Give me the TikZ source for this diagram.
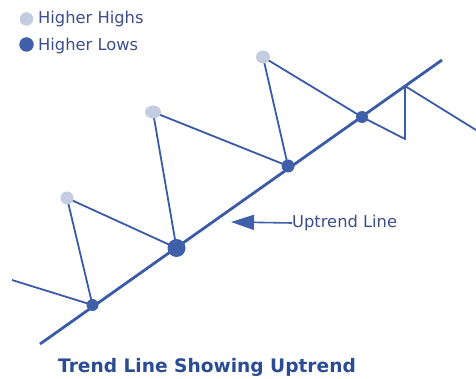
\documentclass[tikz,border=0pt]{standalone}
\usepackage{fontspec}
\setmainfont{DejaVu Sans}
\usepackage{xcolor}
\usetikzlibrary{arrows.meta,shapes.geometric}

\definecolor{lineblue}{HTML}{3A5BA6}
\definecolor{dotdark}{HTML}{3F5FA8}
\definecolor{dotlight}{HTML}{C3CCE0}
\definecolor{textblue}{HTML}{3C4E8C}
\definecolor{titleblue}{HTML}{2B4C93}

\tikzset{
  trend/.style={lineblue, line width=2.8pt},
  zig/.style={lineblue, line width=1.8pt, line join=round},
  lowdot/.style={circle, fill=dotdark, inner sep=0pt, minimum size=12pt},
  highdot/.style={ellipse, fill=dotlight, inner sep=0pt, minimum width=15pt, minimum height=13pt},
  legtext/.style={anchor=west, text=textblue, font=\fontsize{16.3}{19}\selectfont, inner sep=0pt},
}

\begin{document}
\begin{tikzpicture}[x=1pt,y=-1pt]
  \useasboundingbox[fill=white] (0,0) rectangle (476,379);
  % points of the zigzag
  \coordinate (s0) at (12,280);
  \coordinate (l1) at (92.5,305);
  \coordinate (h1) at (67,198);
  \coordinate (l2) at (176.5,248);
  \coordinate (h2) at (153,112);
  \coordinate (l3) at (288,166);
  \coordinate (h3) at (263,57);
  \coordinate (l4) at (362,117);
  \coordinate (e1) at (405,139);
  \coordinate (e2) at (405,86);
  \coordinate (e3) at (476,130);
  \coordinate (t0) at (40,344);
  \coordinate (t1) at (442,60);

  \draw[trend] (t0) -- (t1);
  \draw[zig] (s0) -- (l1) -- (h1) -- (l2) -- (h2) -- (l3) -- (h3) -- (l4) -- (e1) -- (e2) -- (e3);

  \node[lowdot] (d1) at (l1) {};
  \node[lowdot, minimum size=18pt] (d2) at (l2) {};
  \node[lowdot, minimum size=13pt] (d3) at (l3) {};
  \node[lowdot] (d4) at (l4) {};
  \node[highdot, minimum width=13pt] (g1) at (h1) {};
  \node[highdot, minimum width=16pt] (g2) at (h2) {};
  \node[highdot, minimum width=14pt] (g3) at (h3) {};

  % legend
  \node[circle, fill=dotlight, inner sep=0pt, minimum size=13.5pt] (lg1) at (26.5,19) {};
  \node[legtext] (lgt1) at (38,19.5) {Higher Highs};
  \node[circle, fill=dotdark, inner sep=0pt, minimum size=14.5pt] (lg2) at (26.5,44.5) {};
  \node[legtext] (lgt2) at (38,46) {Higher Lows};

  % label with arrow
  \node[legtext] (upl) at (292,223) {Uptrend Line};
  \coordinate (tip) at (231,222);
  \draw[dotdark, line width=1.6pt, -{Triangle[length=23pt,width=15pt]}] (upl.west) -- (tip);

  \node[text=titleblue, font=\bfseries\fontsize{18.6}{22}\selectfont] (title) at (207,367) {Trend Line Showing Uptrend};
\end{tikzpicture}
\end{document}
